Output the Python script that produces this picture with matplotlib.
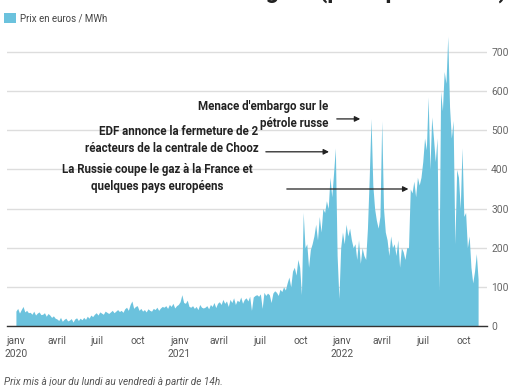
import numpy as np
import pandas as pd
import matplotlib
matplotlib.use("Agg")
import matplotlib.pyplot as plt
import matplotlib.dates as mdates

plt.rcParams['font.family'] = ['Roboto', 'DejaVu Sans']

# prix spot journalier (euros / MWh), un point tous les 4 jours
prix_2020 = [38, 45, 33, 42, 50, 36, 40, 34,
             35, 30, 38, 28, 33, 36, 29,
             30, 34, 25, 32, 28, 22, 26, 20,
             18, 14, 22, 12, 17, 20, 13,
             15, 19, 10, 18, 21, 14, 20, 16,
             22, 17, 25, 20, 28, 24, 30,
             34, 28, 36, 33, 30, 38, 35, 32,
             36, 40, 34, 38, 42, 37, 40, 35,
             44, 48, 40, 55, 64, 45, 50,
             52, 40, 45, 38, 42, 36, 44, 40,
             38, 45, 42, 48, 40, 46, 50,
             48, 52, 45, 55, 50, 58, 46, 52]
prix_2021 = [55, 62, 80, 60, 58, 66, 50, 48,
             52, 45, 50, 42, 55, 48, 46,
             48, 52, 44, 55, 50, 60, 47, 58,
             62, 55, 68, 58, 64, 50, 68,
             60, 72, 55, 66, 62, 74, 58, 68,
             72, 64, 76, 40, 74, 78, 80,
             76, 82, 45, 86, 78, 84, 80, 60,
             84, 90, 86, 78, 94, 88, 100, 92,
             110, 125, 100, 140, 150, 130, 170,
             150, 80, 290, 200, 210, 150, 195, 210,
             230, 260, 220, 280, 240, 300, 290,
             320, 300, 380, 330, 390, 455, 180, 70]
prix_2022 = [200, 240, 210, 260, 230, 250, 220, 200,
             210, 170, 220, 160, 200, 180, 170,
             250, 380, 530, 360, 300, 270, 250, 280,
             524, 300, 240, 220, 180, 230, 200,
             210, 180, 220, 150, 200, 190, 170, 200,
             200, 350, 340, 370, 330, 380, 360,
             380, 420, 480, 450, 585, 400, 534, 480,
             420, 480, 90, 600, 550, 650, 620, 740,
             560, 480, 525, 210, 400, 380, 300,
             455, 280, 290, 200, 230, 150, 110, 140,
             185, 120]

prix = prix_2020 + prix_2021 + prix_2022
dates = pd.date_range(start='2020-01-01', periods=len(prix), freq='4D')

tick_dates = pd.date_range(start='2020-01-01', end='2022-10-01', freq='QS')
tick_labels = ['janv\n2020', 'avril', 'juil', 'oct',
               'janv\n2021', 'avril', 'juil', 'oct',
               'janv\n2022', 'avril', 'juil', 'oct']
y_ticks = [0, 100, 200, 300, 400, 500, 600, 700]

bleu = '#6bc2dd'

fig = plt.figure(figsize=(5.14, 3.86), dpi=100)
ax = fig.add_axes([0.0136, 0.1554, 0.9339, 0.7708])

ax.fill_between(dates, prix, 0, color=bleu, linewidth=0)

ax.set_xlim(pd.Timestamp('2019-12-12'), pd.Timestamp('2022-11-22'))
ax.set_ylim(0, 760)

ax.set_xticks(tick_dates)
ax.set_xticklabels(tick_labels, fontsize=7.4, color='#555555', linespacing=1.4)
ax.yaxis.tick_right()
ax.set_yticks(y_ticks)
ax.set_yticklabels([str(v) for v in y_ticks], fontsize=7.4, color='#666666')
ax.tick_params(axis='both', length=0)
ax.tick_params(axis='x', pad=7)
ax.tick_params(axis='y', pad=3)

ax.grid(axis='y', color='#dddddd', linewidth=1)
ax.set_axisbelow(True)
for s in ['top', 'right', 'left']:
    ax.spines[s].set_visible(False)
ax.spines['bottom'].set_color('#333333')
ax.spines['bottom'].set_linewidth(1)

# annotations
txt = dict(fontsize=8.3, fontweight='bold', color='#222222', linespacing=1.38)
arr = dict(arrowstyle='-|>', color='#222222', lw=0.9, mutation_scale=8)

ax.text(pd.Timestamp('2021-12-02'), 538, "Menace d'embargo sur le\npétrole russe",
        ha='right', va='center', **txt)
ax.annotate('', xy=(pd.Timestamp('2022-02-17'), 529), xytext=(pd.Timestamp('2021-12-14'), 529),
            arrowprops=arr)

ax.text(pd.Timestamp('2021-06-27'), 476, "EDF annonce la fermeture de 2\nréacteurs de la centrale de Chooz",
        ha='right', va='center', **txt)
ax.annotate('', xy=(pd.Timestamp('2021-12-09'), 445), xytext=(pd.Timestamp('2021-07-08'), 445),
            arrowprops=arr)

ax.text(pd.Timestamp('2020-11-12'), 378, "La Russie coupe le gaz à la France et\nquelques pays européens",
        ha='center', va='center', **txt)
ax.annotate('', xy=(pd.Timestamp('2022-06-05'), 350), xytext=(pd.Timestamp('2021-08-24'), 350),
            arrowprops=arr)

# légende
fig.patches.append(plt.Rectangle((4 / 514, 1 - 23 / 386), 12 / 514, 10 / 386,
                                 transform=fig.transFigure, color=bleu, linewidth=0))
fig.text(20 / 514, 1 - 18 / 386, 'Prix en euros / MWh', fontsize=7, color='#444444', va='center')

# titre (coupé en haut de l'image, comme sur l'original)
fig.text(507 / 514, 1.005, "Prix de l'électricité sur le marché de gros (prix spot France)",
         fontsize=17, fontweight='bold', color='#222222', ha='right', va='baseline')

fig.text(4 / 514, 1 - 385 / 386, 'Prix mis à jour du lundi au vendredi à partir de 14h.',
         fontsize=7.2, style='italic', color='#555555', va='baseline')

fig.savefig('out.png', dpi=100)
